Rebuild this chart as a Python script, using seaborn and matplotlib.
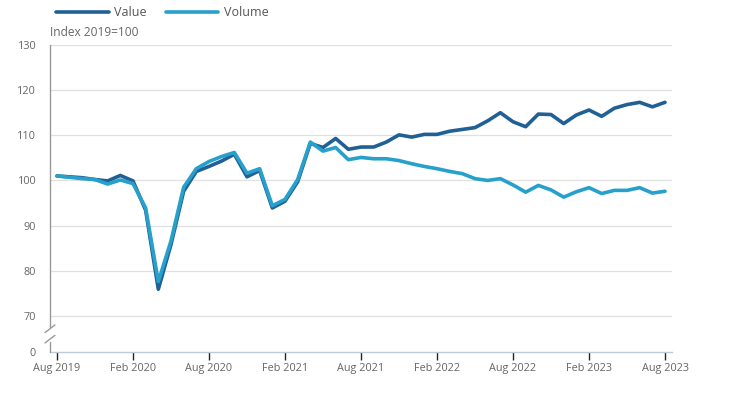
import matplotlib
matplotlib.use("Agg")
import matplotlib.pyplot as plt
import matplotlib.transforms as mtransforms
from matplotlib.lines import Line2D
import seaborn as sns
import pandas as pd

months = pd.date_range("2019-08-01", "2023-08-01", freq="MS")

value = [101.0, 100.8, 100.6, 100.2, 99.9, 101.1, 99.9, 93.4, 75.9, 85.8,
         97.6, 102.0, 103.1, 104.3, 105.8, 100.8, 102.2, 93.9, 95.4, 99.7,
         108.2, 107.3, 109.3, 106.9, 107.4, 107.4, 108.5, 110.1, 109.6, 110.2,
         110.2, 110.9, 111.3, 111.7, 113.2, 115.0, 113.0, 111.9, 114.7, 114.6,
         112.6, 114.5, 115.6, 114.2, 116.0, 116.8, 117.3, 116.3, 117.3]
volume = [101.0, 100.7, 100.4, 100.2, 99.2, 100.1, 99.3, 93.9, 77.6, 86.6,
          98.5, 102.6, 104.2, 105.3, 106.2, 101.6, 102.6, 94.4, 95.8, 100.2,
          108.5, 106.5, 107.3, 104.6, 105.1, 104.8, 104.8, 104.4, 103.7, 103.1,
          102.6, 102.0, 101.5, 100.4, 100.0, 100.4, 99.0, 97.4, 98.9, 97.9,
          96.3, 97.5, 98.4, 97.1, 97.8, 97.8, 98.4, 97.2, 97.6]

series_names = ["Value", "Volume"]
tick_labels = ["Aug 2019", "Feb 2020", "Aug 2020", "Feb 2021", "Aug 2021",
               "Feb 2022", "Aug 2022", "Feb 2023", "Aug 2023"]
ytick_values = [70, 80, 90, 100, 110, 120, 130]

n = len(months)
df = pd.DataFrame({
    "idx": list(range(n)) * 2,
    "index": value + volume,
    "series": ["Value"] * n + ["Volume"] * n,
})

sns.set_theme(style="white")
plt.rcParams["font.family"] = ["Open Sans", "DejaVu Sans"]

fig = plt.figure(figsize=(7.33, 3.97), dpi=100)
ax = fig.add_axes([50 / 733, 1 - 352 / 397, 622 / 733, 307 / 397])

palette = {"Value": "#206095", "Volume": "#27a0cc"}
sns.lineplot(data=df, x="idx", y="index", hue="series", palette=palette,
             linewidth=2.6, ax=ax, legend=False, zorder=3)

# broken axis: 0 displayed at 62
zero_pos = 62
ax.set_ylim(zero_pos, 130)
ax.set_xlim(-0.55, n - 1 + 0.55)
ax.set_yticks([zero_pos] + ytick_values)
ax.set_yticklabels(["0"] + [str(v) for v in ytick_values])
tick_pos = list(range(0, n, 6))
ax.set_xticks(tick_pos)
ax.set_xticklabels(tick_labels)
ax.set_xlabel("")
ax.set_ylabel("")

for v in ytick_values:
    ax.axhline(v, color="#e0e0e0", linewidth=0.9, zorder=1)

for s in ["top", "right"]:
    ax.spines[s].set_visible(False)
ax.spines["bottom"].set_color("#bfcad8")
ax.spines["bottom"].set_linewidth(1.0)
ax.spines["left"].set_color("#999999")
ax.spines["left"].set_linewidth(1.0)
ax.spines["left"].set_bounds(67.6, 130)

ax.tick_params(axis="x", length=6, width=1, labelsize=7.8, pad=2,
               direction="out", bottom=True, labelcolor="#666666")
for t in ax.get_xticklines():
    t.set_color("#bfcad8")
ax.tick_params(axis="y", length=0, labelsize=7.8, labelcolor="#666666", pad=10)

# left spine bottom segment and break marks
trans = mtransforms.blended_transform_factory(ax.transAxes, ax.transData)
ax.plot([0, 0], [zero_pos, 64.3], transform=trans, color="#999999",
        linewidth=1.0, clip_on=False, zorder=4)
dx = 5 / 622
ax.plot([-dx, dx], [66.3, 68.0], transform=trans, color="#999999",
        linewidth=1.0, clip_on=False, zorder=4)
ax.plot([-dx, dx], [64.0, 65.7], transform=trans, color="#999999",
        linewidth=1.0, clip_on=False, zorder=4)

ax.text(0, 131.3, "Index 2019=100", transform=trans, fontsize=8.6,
        color="#666666", ha="left", va="bottom")

# legend
handles = [Line2D([0], [0], color=palette[s], linewidth=2.6) for s in series_names]
fig.legend(handles, series_names, loc="upper left",
           bbox_to_anchor=(45 / 733, 1.012), ncol=2, frameon=False,
           handlelength=4.2, handletextpad=0.45, columnspacing=1.5,
           fontsize=9, labelcolor="#555555")

fig.savefig("out.png", dpi=100, facecolor="white")
